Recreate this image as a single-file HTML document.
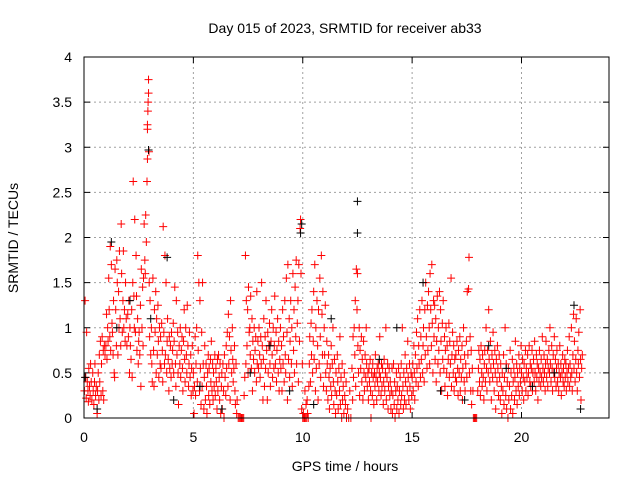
<!DOCTYPE html>
<html><head><meta charset="utf-8"><style>
body{margin:0;background:#fff}
svg{display:block;font-family:"Liberation Sans",sans-serif}
</style></head><body>
<svg id="chart" width="640" height="480">
<text x="345" y="33" font-size="14" text-anchor="middle">Day 015 of 2023, SRMTID for receiver ab33</text>
<text x="345" y="471" font-size="14" text-anchor="middle">GPS time / hours</text>
<text transform="translate(18,238) rotate(-90)" font-size="14" text-anchor="middle">SRMTID / TECUs</text>
<g id="grid"></g>
<g id="ticks"></g>
<g id="redSeries"></g>
<g id="blackSeries"></g>
<rect x="84" y="57" width="525" height="361" fill="none" stroke="#000" stroke-width="1"/>
</svg>
<script>
const xTicks=[0,5,10,15,20];
const yTicks=[0,0.5,1,1.5,2,2.5,3,3.5,4];
const yTickLabels=["0","0.5","1","1.5","2","2.5","3","3.5","4"];
const blackPoints=[[0.05,.45],[0.6,.1],[1.25,1.95],[1.5,1.0],[2.1,1.3],[2.95,2.97],[3.05,1.1],[3.8,1.78],[4.1,.2],[5.3,.35],[6.3,.1],[7.6,.5],[8.5,.8],[9.4,.3],[9.9,2.05],[9.95,2.15],[10.5,.15],[11.3,1.1],[12.5,2.4],[12.5,2.05],[13.5,.65],[14.3,1.0],[15.5,1.5],[16.3,.3],[17.4,.2],[18.5,.8],[19.3,.55],[20.5,.35],[21.5,.5],[22.4,1.25],[22.7,.1]];
const redPoints=[[0.02,.3],[.05,1.3],[.08,.45],[.1,.22],[.12,.95],[.15,.4],[.18,.3],[.2,.18],[.22,.55],[.25,.35],[.28,.25],[.3,.6],[.33,.4],[.36,.2],[.4,.5],[.42,.3],[.45,.15],[.48,.4],[.5,.6],[.53,.25],[.56,.35],[.6,.05],[.62,.3],[.65,.5],[.68,.2],[.7,.7],[.72,.4],[.75,.85],[.78,.25],[.8,.6],[.83,.9],[.86,.3],[.88,.75],[.9,.2],[.93,.8],[.96,.7],
[1.0,.8],[1.03,1.15],[1.05,.65],[1.08,1.0],[1.1,.85],[1.13,1.55],[1.15,1.2],[1.18,.9],[1.2,1.9],[1.22,.75],[1.25,1.7],[1.28,1.05],[1.3,.95],[1.33,.7],[1.35,1.3],[1.38,.5],[1.4,.45],[1.42,1.65],[1.45,1.2],[1.48,.8],[1.5,1.75],[1.52,1.5],[1.55,.7],[1.58,1.4],[1.6,1.0],[1.62,1.85],[1.65,1.1],[1.68,.8],[1.7,2.15],[1.72,1.6],[1.75,.95],[1.78,1.3],[1.8,1.85],[1.82,1.0],[1.85,1.2],[1.88,.85],[1.9,1.5],[1.93,1.1],[1.96,.8],
[2.0,1.15],[2.03,.9],[2.05,1.3],[2.08,.5],[2.1,1.0],[2.12,.8],[2.15,.65],[2.18,1.2],[2.2,.45],[2.23,1.5],[2.25,2.62],[2.28,1.35],[2.3,1.0],[2.32,2.2],[2.35,.95],[2.38,1.8],[2.4,1.35],[2.42,.75],[2.45,1.1],[2.48,.6],[2.5,.85],[2.52,.95],[2.55,.7],[2.58,1.25],[2.6,.35],[2.62,1.65],[2.65,1.0],[2.68,1.45],[2.7,.8],[2.72,1.55],[2.75,2.15],[2.78,1.75],[2.8,1.6],[2.82,2.25],[2.85,1.95],[2.88,2.62],[2.9,2.87],[2.9,3.2],[2.92,3.4],[2.93,3.5],[2.95,3.6],[2.95,3.75],[2.97,2.95],[2.9,3.25],[2.98,1.5],[3.0,.9],
[3.02,1.3],[3.05,.7],[3.08,1.0],[3.1,.6],[3.12,.4],[3.15,1.55],[3.18,.75],[3.2,.35],[3.22,1.2],[3.25,.95],[3.28,1.4],[3.3,.5],[3.32,1.1],[3.35,.7],[3.38,1.25],[3.4,.85],[3.42,.45],[3.45,1.0],[3.48,.6],[3.5,.9],[3.52,.55],[3.55,1.05],[3.58,.75],[3.6,.4],[3.62,2.12],[3.65,.95],[3.68,.6],[3.7,1.8],[3.72,.7],[3.75,1.5],[3.78,.5],[3.8,.85],[3.82,1.1],[3.85,.65],[3.88,.3],[3.9,.9],[3.92,.55],[3.95,.8],[3.98,.45],
[4.0,.95],[4.03,.6],[4.05,.75],[4.08,1.05],[4.1,.5],[4.12,.85],[4.15,1.45],[4.18,.6],[4.2,.35],[4.22,1.3],[4.25,.7],[4.28,.95],[4.3,.5],[4.32,.15],[4.35,.8],[4.38,.6],[4.4,1.0],[4.42,.45],[4.45,.75],[4.48,.9],[4.5,.55],[4.52,.3],[4.55,.85],[4.58,1.2],[4.6,.65],[4.62,.4],[4.65,1.0],[4.68,.7],[4.7,.5],[4.72,1.25],[4.75,.8],[4.78,.35],[4.8,.6],[4.82,.95],[4.85,.45],[4.88,.7],[4.9,.25],[4.92,.55],[4.95,.8],[4.98,.3],
[5.0,.5],[5.03,.05],[5.05,.35],[5.08,.9],[5.1,.25],[5.12,.6],[5.15,1.0],[5.18,.4],[5.2,1.8],[5.22,.75],[5.25,1.5],[5.28,.3],[5.3,1.3],[5.32,.55],[5.35,.15],[5.38,.95],[5.4,.35],[5.42,1.5],[5.45,.6],[5.48,.1],[5.5,.45],[5.52,.8],[5.55,.2],[5.58,.6],[5.6,.35],[5.62,.05],[5.65,.5],[5.68,.7],[5.7,.25],[5.72,.55],[5.75,.15],[5.78,.65],[5.8,.4],[5.82,.85],[5.85,.3],[5.88,.6],[5.9,.2],[5.92,.5],[5.95,.35],[5.98,.7],
[6.0,.25],[6.03,.55],[6.05,.4],[6.08,.1],[6.1,.65],[6.12,.3],[6.15,.7],[6.18,.45],[6.2,.2],[6.22,.6],[6.25,.05],[6.28,.35],[6.3,.5],[6.32,.1],[6.35,.6],[6.38,.3],[6.4,0],[6.42,.7],[6.45,.45],[6.48,.25],[6.5,.8],[6.52,.55],[6.55,.95],[6.58,.35],[6.6,1.15],[6.62,.6],[6.65,.9],[6.68,.2],[6.7,1.3],[6.72,.75],[6.75,.5],[6.78,1.0],[6.8,.65],[6.82,.4],[6.85,.55],[6.88,.8],[6.9,.3],[6.92,.15],[6.95,.6],[6.98,.05],
[7.0,.2],[7.05,0],[7.1,0],[7.15,0],[7.2,0],[7.25,0],[7.3,0],[7.32,.25],[7.35,.45],[7.38,1.8],[7.4,.6],[7.42,1.3],[7.45,.8],[7.48,1.2],[7.5,.5],[7.52,1.45],[7.55,.95],[7.58,1.0],[7.6,.7],[7.62,1.35],[7.65,.55],[7.68,1.1],[7.7,.3],[7.72,.85],[7.75,.65],[7.78,1.0],[7.8,.5],[7.82,.75],[7.85,.9],[7.88,.4],[7.9,1.4],[7.92,.6],[7.95,.85],[7.98,.55],
[8.0,1.0],[8.03,.7],[8.05,.45],[8.08,.9],[8.1,.6],[8.12,1.5],[8.15,.8],[8.18,.2],[8.2,.65],[8.22,1.1],[8.25,.35],[8.28,.9],[8.3,.55],[8.32,1.3],[8.35,.75],[8.38,.2],[8.4,.95],[8.42,.5],[8.45,.8],[8.48,1.05],[8.5,.6],[8.52,.35],[8.55,.85],[8.58,1.2],[8.6,.7],[8.62,.45],[8.65,1.0],[8.68,.55],[8.7,.8],[8.72,1.35],[8.75,.6],[8.78,.95],[8.8,.4],[8.82,.75],[8.85,1.1],[8.88,.5],[8.9,.85],[8.92,.3],[8.95,.65],[8.98,1.0],
[9.0,.55],[9.03,.8],[9.05,.3],[9.08,1.2],[9.1,.6],[9.12,.9],[9.15,.4],[9.18,1.3],[9.2,.7],[9.22,.5],[9.25,1.55],[9.28,.95],[9.3,.2],[9.32,1.7],[9.35,.65],[9.38,1.1],[9.4,.45],[9.42,.85],[9.45,1.3],[9.48,.6],[9.5,1.0],[9.52,.35],[9.55,1.6],[9.58,.75],[9.6,1.2],[9.62,.5],[9.65,1.45],[9.68,.9],[9.7,1.75],[9.72,.6],[9.75,1.05],[9.78,1.3],[9.8,.4],[9.82,1.7],[9.85,.85],[9.88,2.1],[9.9,2.2],[9.92,1.6],[9.95,.1],[9.98,.6],
[10.0,0],[10.03,.05],[10.05,0],[10.08,0],[10.1,.3],[10.12,0],[10.15,.15],[10.18,0],[10.2,.2],[10.22,.05],[10.25,0],[10.28,.35],[10.3,.6],[10.32,.9],[10.35,.4],[10.38,1.05],[10.4,.7],[10.42,1.2],[10.45,.5],[10.48,.85],[10.5,1.4],[10.52,.65],[10.55,1.7],[10.58,.3],[10.6,1.0],[10.62,.55],[10.65,1.3],[10.68,.8],[10.7,.2],[10.72,1.2],[10.75,.6],[10.78,1.55],[10.8,.9],[10.82,.45],[10.85,1.8],[10.88,1.15],[10.9,.7],[10.92,1.4],[10.95,.35],[10.98,1.0],
[11.0,.7],[11.03,1.25],[11.05,.5],[11.08,.3],[11.1,.85],[11.12,.6],[11.15,.2],[11.18,.7],[11.2,.45],[11.22,.1],[11.25,.55],[11.28,.35],[11.3,.8],[11.32,.25],[11.35,.6],[11.38,1.0],[11.4,.4],[11.42,.15],[11.45,.65],[11.48,.3],[11.5,.05],[11.52,.5],[11.55,.25],[11.58,.7],[11.6,.4],[11.62,.1],[11.65,.55],[11.68,.3],[11.7,.9],[11.72,.15],[11.75,.45],[11.78,0],[11.8,.6],[11.82,.2],[11.85,.35],[11.88,.05],[11.9,.5],[11.92,.25],[11.95,.15],[11.98,.4],
[12.0,0],[12.05,.1],[12.1,0],[12.15,.3],[12.2,0],[12.25,.55],[12.28,.2],[12.3,.9],[12.32,.45],[12.35,1.0],[12.38,.7],[12.4,1.3],[12.42,.35],[12.45,1.65],[12.48,1.2],[12.5,1.6],[12.52,.8],[12.55,.5],[12.58,1.0],[12.6,.25],[12.62,.75],[12.65,.55],[12.68,.9],[12.7,.4],[12.72,.65],[12.75,.2],[12.78,.85],[12.8,.5],[12.82,.3],[12.85,.7],[12.88,.45],[12.9,1.0],[12.92,.6],[12.95,.35],[12.98,.5],
[13.0,.2],[13.03,.55],[13.05,.4],[13.08,.65],[13.1,.3],[13.12,0],[13.15,.5],[13.18,.25],[13.2,.6],[13.22,.45],[13.25,.15],[13.28,.5],[13.3,.35],[13.32,.7],[13.35,.45],[13.38,.2],[13.4,.55],[13.42,.4],[13.45,.6],[13.48,.3],[13.5,.5],[13.52,.9],[13.55,.45],[13.58,.25],[13.6,.6],[13.62,.35],[13.65,.55],[13.68,.15],[13.7,.4],[13.72,.65],[13.75,.3],[13.78,.5],[13.8,1.0],[13.82,.2],[13.85,.45],[13.88,.6],[13.9,.1],[13.92,.35],[13.95,.55],[13.98,.25],
[14.0,.4],[14.03,.1],[14.05,.3],[14.08,.55],[14.1,.05],[14.12,.25],[14.15,.6],[14.18,.15],[14.2,.4],[14.22,0],[14.25,.3],[14.28,.5],[14.3,.1],[14.32,.35],[14.35,.2],[14.38,.55],[14.4,.05],[14.42,.3],[14.45,.45],[14.48,.15],[14.5,.6],[14.52,.25],[14.55,1.0],[14.58,.35],[14.6,.1],[14.62,.5],[14.65,.2],[14.68,.7],[14.7,.4],[14.72,.15],[14.75,.55],[14.78,.3],[14.8,.85],[14.82,.45],[14.85,.2],[14.88,.6],[14.9,.35],[14.92,.1],[14.95,.5],[14.98,.25],
[15.0,.45],[15.03,.6],[15.05,.3],[15.08,.8],[15.1,.5],[15.12,.2],[15.15,.7],[15.18,.4],[15.2,.95],[15.22,.55],[15.25,1.1],[15.28,.35],[15.3,.8],[15.32,.6],[15.35,1.2],[15.38,.45],[15.4,.9],[15.42,.65],[15.45,1.3],[15.48,.5],[15.5,.8],[15.52,1.0],[15.55,.4],[15.58,1.2],[15.6,.7],[15.62,1.5],[15.65,.9],[15.68,.55],[15.7,1.25],[15.72,.75],[15.75,1.4],[15.78,1.0],[15.8,.6],[15.82,1.6],[15.85,1.2],[15.88,.8],[15.9,1.7],[15.92,1.05],[15.95,.5],[15.98,1.3],
[16.0,.9],[16.03,1.25],[16.05,.65],[16.08,1.1],[16.1,.4],[16.12,.85],[16.15,1.35],[16.18,.6],[16.2,1.0],[16.22,.75],[16.25,1.4],[16.28,.5],[16.3,1.2],[16.32,.85],[16.35,.3],[16.38,1.05],[16.4,.65],[16.42,1.3],[16.45,.55],[16.48,.9],[16.5,.35],[16.52,.75],[16.55,1.0],[16.58,.5],[16.6,.8],[16.62,.25],[16.65,.65],[16.68,1.05],[16.7,.45],[16.72,.85],[16.75,.6],[16.78,1.55],[16.8,.35],[16.82,.7],[16.85,.95],[16.88,.5],[16.9,.8],[16.92,.3],[16.95,.65],[16.98,.45],
[17.0,.7],[17.03,.4],[17.05,.85],[17.08,.55],[17.1,.25],[17.12,.75],[17.15,.5],[17.18,.9],[17.2,.3],[17.22,.65],[17.25,.45],[17.28,.8],[17.3,.2],[17.32,.55],[17.35,1.0],[17.38,.4],[17.4,.7],[17.42,.3],[17.45,.6],[17.48,.85],[17.5,.45],[17.52,1.4],[17.55,.7],[17.58,1.43],[17.6,1.78],[17.62,.5],[17.65,.9],[17.68,.3],[17.7,.75],[17.72,.15],[17.75,.55],[17.78,.3],[17.8,0],[17.85,0],[17.9,0],[17.95,0],
[18.0,.3],[18.03,.55],[18.05,.75],[18.08,.4],[18.1,.65],[18.12,.25],[18.15,.8],[18.18,.5],[18.2,.35],[18.22,.7],[18.25,.45],[18.28,.2],[18.3,.6],[18.32,.75],[18.35,.4],[18.38,1.0],[18.4,.55],[18.42,.3],[18.45,.75],[18.48,.5],[18.5,1.2],[18.52,.65],[18.55,.4],[18.58,.85],[18.6,.55],[18.62,.2],[18.65,.7],[18.68,.45],[18.7,.95],[18.72,.6],[18.75,.3],[18.78,.75],[18.8,.5],[18.82,.1],[18.85,.65],[18.88,.4],[18.9,.8],[18.92,.55],[18.95,.25],[18.98,.7],
[19.0,.45],[19.03,.2],[19.05,.6],[19.08,.35],[19.1,.05],[19.12,.5],[19.15,.3],[19.18,.7],[19.2,.15],[19.22,.45],[19.25,1.0],[19.28,.25],[19.3,.6],[19.32,.1],[19.35,.4],[19.38,0],[19.4,.55],[19.42,.2],[19.45,.35],[19.48,.75],[19.5,.1],[19.52,.5],[19.55,.25],[19.58,.65],[19.6,.05],[19.62,.4],[19.65,.55],[19.68,.2],[19.7,.45],[19.72,.85],[19.75,.3],[19.78,.6],[19.8,.15],[19.82,.5],[19.85,.35],[19.88,.7],[19.9,.25],[19.92,.55],[19.95,.4],[19.98,.8],
[20.0,.5],[20.03,.3],[20.05,.65],[20.08,.45],[20.1,.2],[20.12,.6],[20.15,.4],[20.18,.75],[20.2,.3],[20.22,.55],[20.25,.45],[20.28,.7],[20.3,.25],[20.32,.5],[20.35,.8],[20.38,.4],[20.4,.6],[20.42,.35],[20.45,.55],[20.48,.75],[20.5,.3],[20.52,.5],[20.55,.65],[20.58,.4],[20.6,.85],[20.62,.5],[20.65,.3],[20.68,.7],[20.7,.45],[20.72,.6],[20.75,.2],[20.78,.55],[20.8,.4],[20.82,.75],[20.85,.5],[20.88,.35],[20.9,.65],[20.92,.45],[20.95,.9],[20.98,.55],
[21.0,.4],[21.03,.7],[21.05,.5],[21.08,.3],[21.1,.6],[21.12,.85],[21.15,.45],[21.18,.65],[21.2,.35],[21.22,.55],[21.25,.75],[21.28,.5],[21.3,1.0],[21.32,.6],[21.35,.4],[21.38,.8],[21.4,.55],[21.42,.3],[21.45,.7],[21.48,.5],[21.5,.9],[21.52,.45],[21.55,.65],[21.58,.35],[21.6,.55],[21.62,.75],[21.65,.4],[21.68,.6],[21.7,.3],[21.72,.5],[21.75,.8],[21.78,.45],[21.8,.6],[21.82,.25],[21.85,.5],[21.88,.7],[21.9,.4],[21.92,.55],[21.95,.35],[21.98,.65],
[22.0,.45],[22.03,.6],[22.05,.3],[22.08,.5],[22.1,.75],[22.12,.4],[22.15,.55],[22.18,.9],[22.2,.35],[22.22,.6],[22.25,.45],[22.28,1.0],[22.3,.5],[22.32,.3],[22.35,.7],[22.38,1.15],[22.4,.55],[22.42,.85],[22.45,.4],[22.48,.65],[22.5,1.1],[22.52,.5],[22.55,.3],[22.58,.75],[22.6,.6],[22.62,.95],[22.65,.45],[22.68,1.2],[22.7,.65],[22.72,.2],[22.75,.55],[22.78,.7]];

const X0=84,X1=609,Y0=418,Y1=57,XMAX=24,YMAX=4;
function xs(v){return X0+(X1-X0)*v/XMAX;}
function ys(v){return Y0-(Y0-Y1)*v/YMAX;}
const NS="http://www.w3.org/2000/svg";
const grid=document.getElementById('grid'),ticks=document.getElementById('ticks');
function mk(tag,attrs,parent){const e=document.createElementNS(NS,tag);for(const k in attrs)e.setAttribute(k,attrs[k]);parent.appendChild(e);return e;}
xTicks.forEach(function(t){
  const x=xs(t);
  if(t>0){const g=mk('line',{x1:x,x2:x,y1:Y1,y2:Y0,stroke:'#a0a0a0','stroke-dasharray':'2,3'},grid);
  
  }
  mk('line',{x1:x,x2:x,y1:Y0,y2:Y0-6,stroke:'#000'},ticks);
  mk('line',{x1:x,x2:x,y1:Y1,y2:Y1+6,stroke:'#000'},ticks);
  const l=mk('text',{x:x,y:Y0+24,'font-size':14,'text-anchor':'middle'},ticks);
  l.textContent=String(t);
  
  
});
yTicks.forEach(function(t,i){
  const y=ys(t);
  if(t>0&&t<YMAX){const g=mk('line',{x1:X0,x2:X1,y1:y,y2:y,stroke:'#a0a0a0','stroke-dasharray':'2,3'},grid);
  
  }
  mk('line',{x1:X0,x2:X0+6,y1:y,y2:y,stroke:'#000'},ticks);
  mk('line',{x1:X1,x2:X1-6,y1:y,y2:y,stroke:'#000'},ticks);
  const l=mk('text',{x:X0-12,y:y+5,'font-size':14,'text-anchor':'end'},ticks);
  l.textContent=yTickLabels[i];
  
  
});
function plus(p,color,parent,name){
  const x=xs(p[0]),y=ys(p[1]);
  const e=mk('path',{d:'M'+(x-4)+' '+y+'H'+(x+4)+'M'+x+' '+(y-4)+'V'+(y+4),stroke:color,'stroke-width':1,fill:'none'},parent);
  
  
}
const rs=document.getElementById('redSeries'),bs=document.getElementById('blackSeries');
redPoints.forEach(function(p){plus(p,'#ff0000',rs,'red-point');});
blackPoints.forEach(function(p){plus(p,'#000000',bs,'black-point');});
</script>
</body></html>
